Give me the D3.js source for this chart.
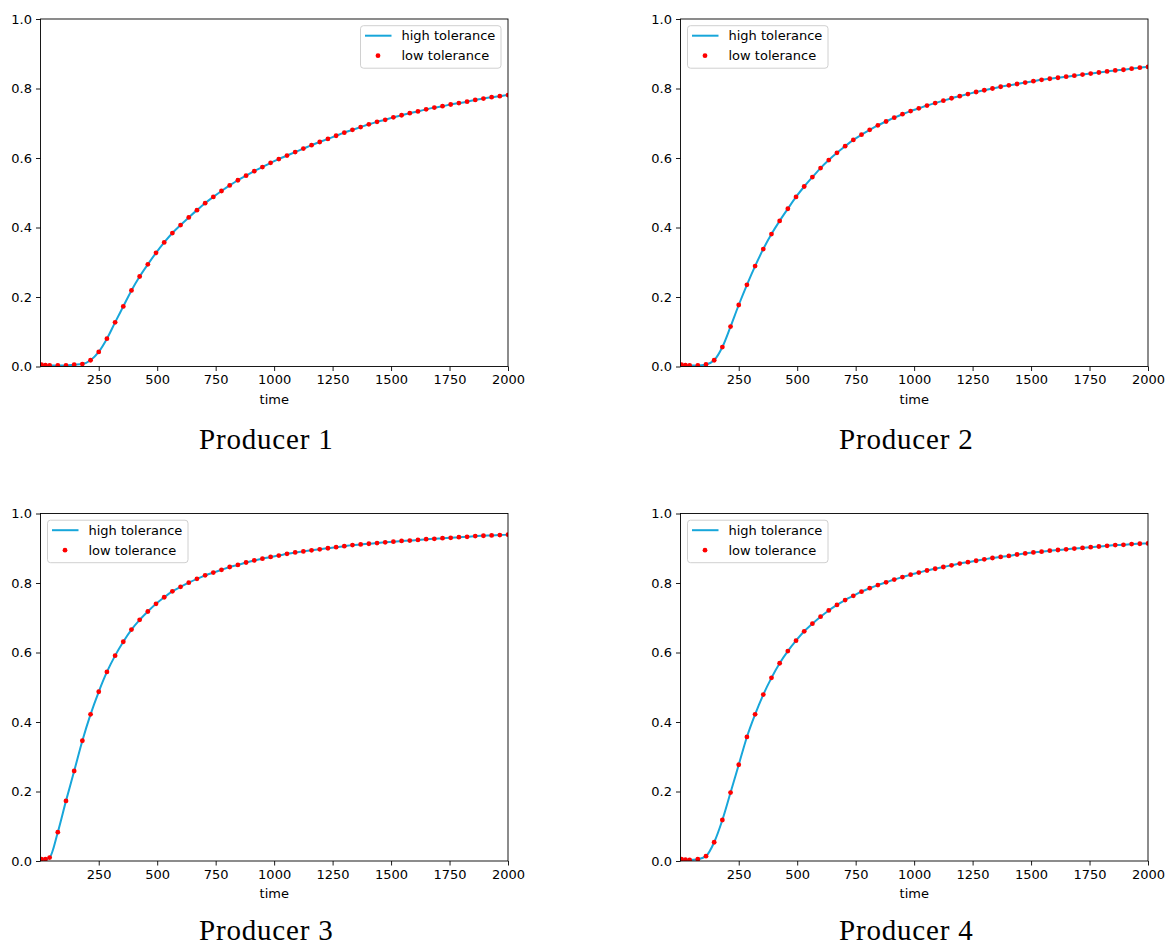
<!DOCTYPE html>
<html>
<head>
<meta charset="utf-8">
<title>producers</title>
<script src="https://d3js.org/d3.v7.min.js"></script>
<style>
  body { margin: 0; background: #fff; }
  .tick text, .lab { font-family: "DejaVu Sans", sans-serif; font-size: 13px; fill: #000; }
  .ttl { font-family: "Liberation Serif", "Times New Roman", serif; font-size: 29px; fill: #000; }
</style>
</head>
<body>
<div id="chart"></div>
<script>
// sample times (the red dots sit on these)
var time = [5, 22, 40, 75, 110, 145, 180, 215, 250, 285, 320, 355, 390, 425, 460, 495,
  530, 565, 600, 635, 670, 705, 740, 775, 810, 845, 880, 915, 950, 985, 1020, 1055,
  1090, 1125, 1160, 1195, 1230, 1265, 1300, 1335, 1370, 1405, 1440, 1475, 1510, 1545,
  1580, 1615, 1650, 1685, 1720, 1755, 1790, 1825, 1860, 1895, 1930, 1965, 2000];

// values; the two runs overlap to the pixel
var producer1 = [0.005, 0.004, 0.003, 0.003, 0.003, 0.005, 0.007, 0.018, 0.042, 0.080, 0.127,
  0.173, 0.219, 0.259, 0.294, 0.327, 0.357, 0.384, 0.407, 0.429, 0.450, 0.470, 0.488, 0.505,
  0.521, 0.536, 0.549, 0.562, 0.574, 0.586, 0.597, 0.607, 0.617, 0.627, 0.637, 0.646, 0.655,
  0.664, 0.673, 0.681, 0.689, 0.697, 0.704, 0.710, 0.717, 0.723, 0.729, 0.734, 0.740, 0.745,
  0.749, 0.754, 0.758, 0.762, 0.767, 0.771, 0.775, 0.778, 0.781];
var producer2 = [0.005, 0.004, 0.003, 0.003, 0.006, 0.018, 0.056, 0.115, 0.177, 0.235, 0.289,
  0.338, 0.381, 0.419, 0.454, 0.488, 0.518, 0.545, 0.571, 0.594, 0.615, 0.634, 0.652, 0.667,
  0.681, 0.694, 0.705, 0.716, 0.726, 0.735, 0.743, 0.751, 0.758, 0.765, 0.772, 0.778, 0.784,
  0.790, 0.795, 0.800, 0.805, 0.809, 0.813, 0.817, 0.821, 0.825, 0.828, 0.831, 0.834, 0.837,
  0.840, 0.843, 0.846, 0.849, 0.852, 0.854, 0.857, 0.860, 0.862];
var producer3 = [0.005, 0.005, 0.010, 0.083, 0.173, 0.259, 0.346, 0.422, 0.487, 0.544, 0.591,
  0.631, 0.666, 0.694, 0.718, 0.740, 0.759, 0.776, 0.789, 0.801, 0.812, 0.822, 0.830, 0.838,
  0.846, 0.852, 0.859, 0.865, 0.870, 0.875, 0.879, 0.884, 0.888, 0.891, 0.894, 0.897, 0.900,
  0.903, 0.906, 0.909, 0.911, 0.913, 0.915, 0.917, 0.919, 0.921, 0.922, 0.924, 0.926, 0.927,
  0.929, 0.930, 0.932, 0.933, 0.935, 0.936, 0.937, 0.938, 0.939];
var producer4 = [0.005, 0.004, 0.003, 0.005, 0.014, 0.054, 0.118, 0.197, 0.277, 0.357, 0.422,
  0.479, 0.527, 0.569, 0.604, 0.634, 0.661, 0.683, 0.703, 0.721, 0.737, 0.751, 0.763, 0.775,
  0.785, 0.794, 0.802, 0.810, 0.817, 0.824, 0.830, 0.836, 0.841, 0.846, 0.851, 0.856, 0.860,
  0.864, 0.868, 0.872, 0.875, 0.878, 0.882, 0.885, 0.888, 0.890, 0.893, 0.895, 0.897, 0.899,
  0.901, 0.903, 0.905, 0.907, 0.909, 0.910, 0.912, 0.913, 0.914];

var titles = ["Producer 1", "Producer 2", "Producer 3", "Producer 4"];
var xTicks = [250, 500, 750, 1000, 1250, 1500, 1750, 2000];
var yTicks = [0, 0.2, 0.4, 0.6, 0.8, 1.0];
var legendLabels = ["high tolerance", "low tolerance"];
var series = [producer1, producer2, producer3, producer4];

var lineColor = "#17a6da", dotColor = "#ff0000";

// panel boxes in pixels
var W = 467.5, H = 347.5;
var panels = [
  {left: 40.5, top: 19, legend: "right", titleY: 82},
  {left: 680.5, top: 19, legend: "left", titleY: 82},
  {left: 40.5, top: 513.5, legend: "left", titleY: 79},
  {left: 680.5, top: 513.5, legend: "left", titleY: 79}
];

var svg = d3.select("#chart").append("svg")
  .attr("width", 1167)
  .attr("height", 945);

panels.forEach(function(p, i) {
  var vals = series[i];
  var data = time.map(function(t, k) { return {t: t, v: vals[k]}; });

  var x = d3.scaleLinear().domain([1, 2000]).range([0, W]);
  var y = d3.scaleLinear().domain([0, 1]).range([H, 0]);

  var g = svg.append("g")
    .attr("transform", "translate(" + p.left + "," + p.top + ")");

  g.append("clipPath").attr("id", "clip" + i)
    .append("rect").attr("width", W).attr("height", H);

  // axes
  var xa = g.append("g")
    .attr("transform", "translate(0," + H + ")")
    .call(d3.axisBottom(x).tickValues(xTicks).tickFormat(d3.format("d")).tickSize(4.5).tickPadding(4));
  var ya = g.append("g")
    .call(d3.axisLeft(y).tickValues(yTicks).tickFormat(d3.format(".1f")).tickSize(4.5).tickPadding(4));
  [xa, ya].forEach(function(a) {
    a.select(".domain").remove();
    a.selectAll(".tick line").attr("stroke", "#000").attr("stroke-width", 0.9);
    a.selectAll(".tick text").attr("font-family", null).attr("font-size", null);
  });

  var plot = g.append("g").attr("clip-path", "url(#clip" + i + ")");

  // high tolerance
  plot.append("path")
    .datum(data)
    .attr("fill", "none")
    .attr("stroke", lineColor)
    .attr("stroke-width", 2)
    .attr("d", d3.line()
      .curve(d3.curveMonotoneX)
      .x(function(d) { return x(d.t); })
      .y(function(d) { return y(d.v); }));

  // low tolerance
  plot.selectAll("circle")
    .data(data)
    .enter()
    .append("circle")
    .attr("cx", function(d) { return x(d.t); })
    .attr("cy", function(d) { return y(d.v); })
    .attr("r", 2.4)
    .attr("fill", dotColor);

  // frame
  g.append("rect")
    .attr("width", W).attr("height", H)
    .attr("fill", "none")
    .attr("stroke", "#000")
    .attr("stroke-width", 0.9);

  g.append("text")
    .attr("class", "lab")
    .attr("x", W / 2)
    .attr("y", H + 37)
    .attr("text-anchor", "middle")
    .text("time");

  g.append("text")
    .attr("class", "ttl")
    .attr("x", W / 2 - 8)
    .attr("y", H + p.titleY)
    .attr("text-anchor", "middle")
    .attr("letter-spacing", 0.8)
    .text(titles[i]);

  // legend
  var lw = 140.5, lh = 42.5;
  var lx = p.legend === "right" ? W - 7 - lw : 7;
  var lg = g.append("g").attr("transform", "translate(" + lx + ",6.7)");
  lg.append("rect")
    .attr("width", lw).attr("height", lh)
    .attr("rx", 3)
    .attr("fill", "#fff").attr("fill-opacity", 0.8)
    .attr("stroke", "#d0d0d0");
  lg.append("line")
    .attr("x1", 4.5).attr("x2", 31)
    .attr("y1", 10).attr("y2", 10)
    .attr("stroke", lineColor).attr("stroke-width", 2);
  lg.append("circle")
    .attr("cx", 17.5).attr("cy", 30).attr("r", 2.4)
    .attr("fill", dotColor);
  lg.selectAll("text.lab")
    .data(legendLabels)
    .enter()
    .append("text")
    .attr("class", "lab")
    .attr("x", 41)
    .attr("y", function(d, k) { return 14.5 + k * 20; })
    .text(function(d) { return d; });
});
</script>
</body>
</html>
